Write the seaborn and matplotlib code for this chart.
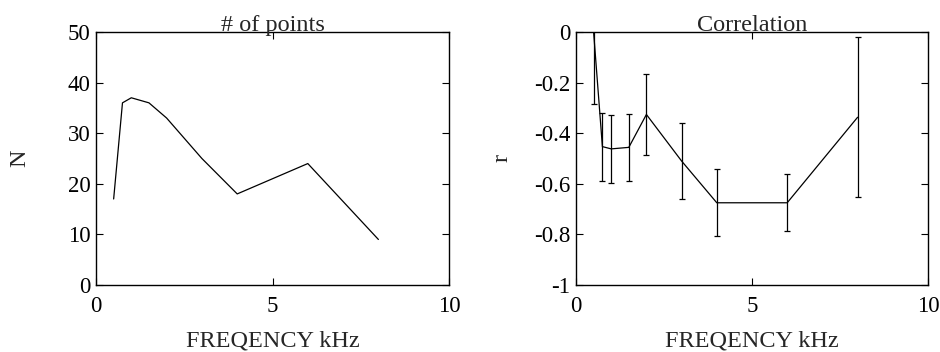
import matplotlib
matplotlib.use("Agg")
import matplotlib.pyplot as plt
import seaborn as sns
import pandas as pd

sns.set_theme(style="ticks")
plt.rcParams['font.family'] = ['Liberation Serif', 'DejaVu Serif']

freq = [0.5, 0.75, 1, 1.5, 2, 3, 4, 6, 8]
n_points = [17, 36, 37, 36, 33, 25, 18, 24, 9]
r_vals = [0.0, -0.453, -0.462, -0.456, -0.326, -0.51, -0.675, -0.675, -0.337]
r_err = [0.285, 0.134, 0.133, 0.133, 0.16, 0.152, 0.132, 0.113, 0.316]

x_ticks = [0, 5, 10]
n_ticks = [0, 10, 20, 30, 40, 50]
r_ticks = [0, -0.2, -0.4, -0.6, -0.8, -1]
r_ticklabels = ["0", "-0.2", "-0.4", "-0.6", "-0.8", "-1"]

df = pd.DataFrame({"freq": freq, "N": n_points, "r": r_vals, "err": r_err})

fig = plt.figure(figsize=(9.4, 3.52), dpi=100)
ax1 = fig.add_axes([96/940, 1-285/352, (449-96)/940, (285-32)/352])
ax2 = fig.add_axes([576/940, 1-285/352, (928-576)/940, (285-32)/352])

fs_tick = 16.5
fs_lab = 17.5
sns.lineplot(data=df, x="freq", y="N", ax=ax1, color="black", linewidth=0.9)
sns.lineplot(data=df, x="freq", y="r", ax=ax2, color="black", linewidth=0.9)
ax2.errorbar(df["freq"], df["r"], yerr=df["err"], fmt="none", ecolor="black",
             elinewidth=0.9, capsize=2.2, capthick=0.9)

for ax in (ax1, ax2):
    ax.set_xlim(0, 10)
    ax.set_xticks(x_ticks)
    ax.set_xticklabels([str(t) for t in x_ticks])
    ax.tick_params(direction="in", top=True, right=True, length=5, width=0.8,
                   labelsize=fs_tick, colors="black")
    ax.tick_params(axis="x", pad=8)
    ax.tick_params(axis="y", pad=4)
    for s in ax.spines.values():
        s.set_linewidth(1.0)
        s.set_color("black")
    ax.set_xlabel("FREQENCY kHz", fontsize=fs_lab)
    ax.xaxis.label.set_va("baseline")
    ax.xaxis.set_label_coords(0.5, -0.245)

ax1.set_ylim(0, 50)
ax1.set_yticks(n_ticks)
ax1.set_yticklabels([str(t) for t in n_ticks])
ax1.set_ylabel("N", fontsize=fs_lab)
ax1.yaxis.label.set_va("center")
ax1.yaxis.set_label_coords(-0.215, 0.5)
ax1.set_title("# of points", fontsize=fs_lab, pad=1)

ax2.set_ylim(-1, 0)
ax2.set_yticks(r_ticks)
ax2.set_yticklabels(r_ticklabels)
ax2.set_ylabel("r", fontsize=fs_lab)
ax2.yaxis.label.set_va("center")
ax2.yaxis.set_label_coords(-0.21, 0.5)
ax2.set_title("Correlation", fontsize=fs_lab, pad=1)

fig.savefig("out.png", dpi=100)
